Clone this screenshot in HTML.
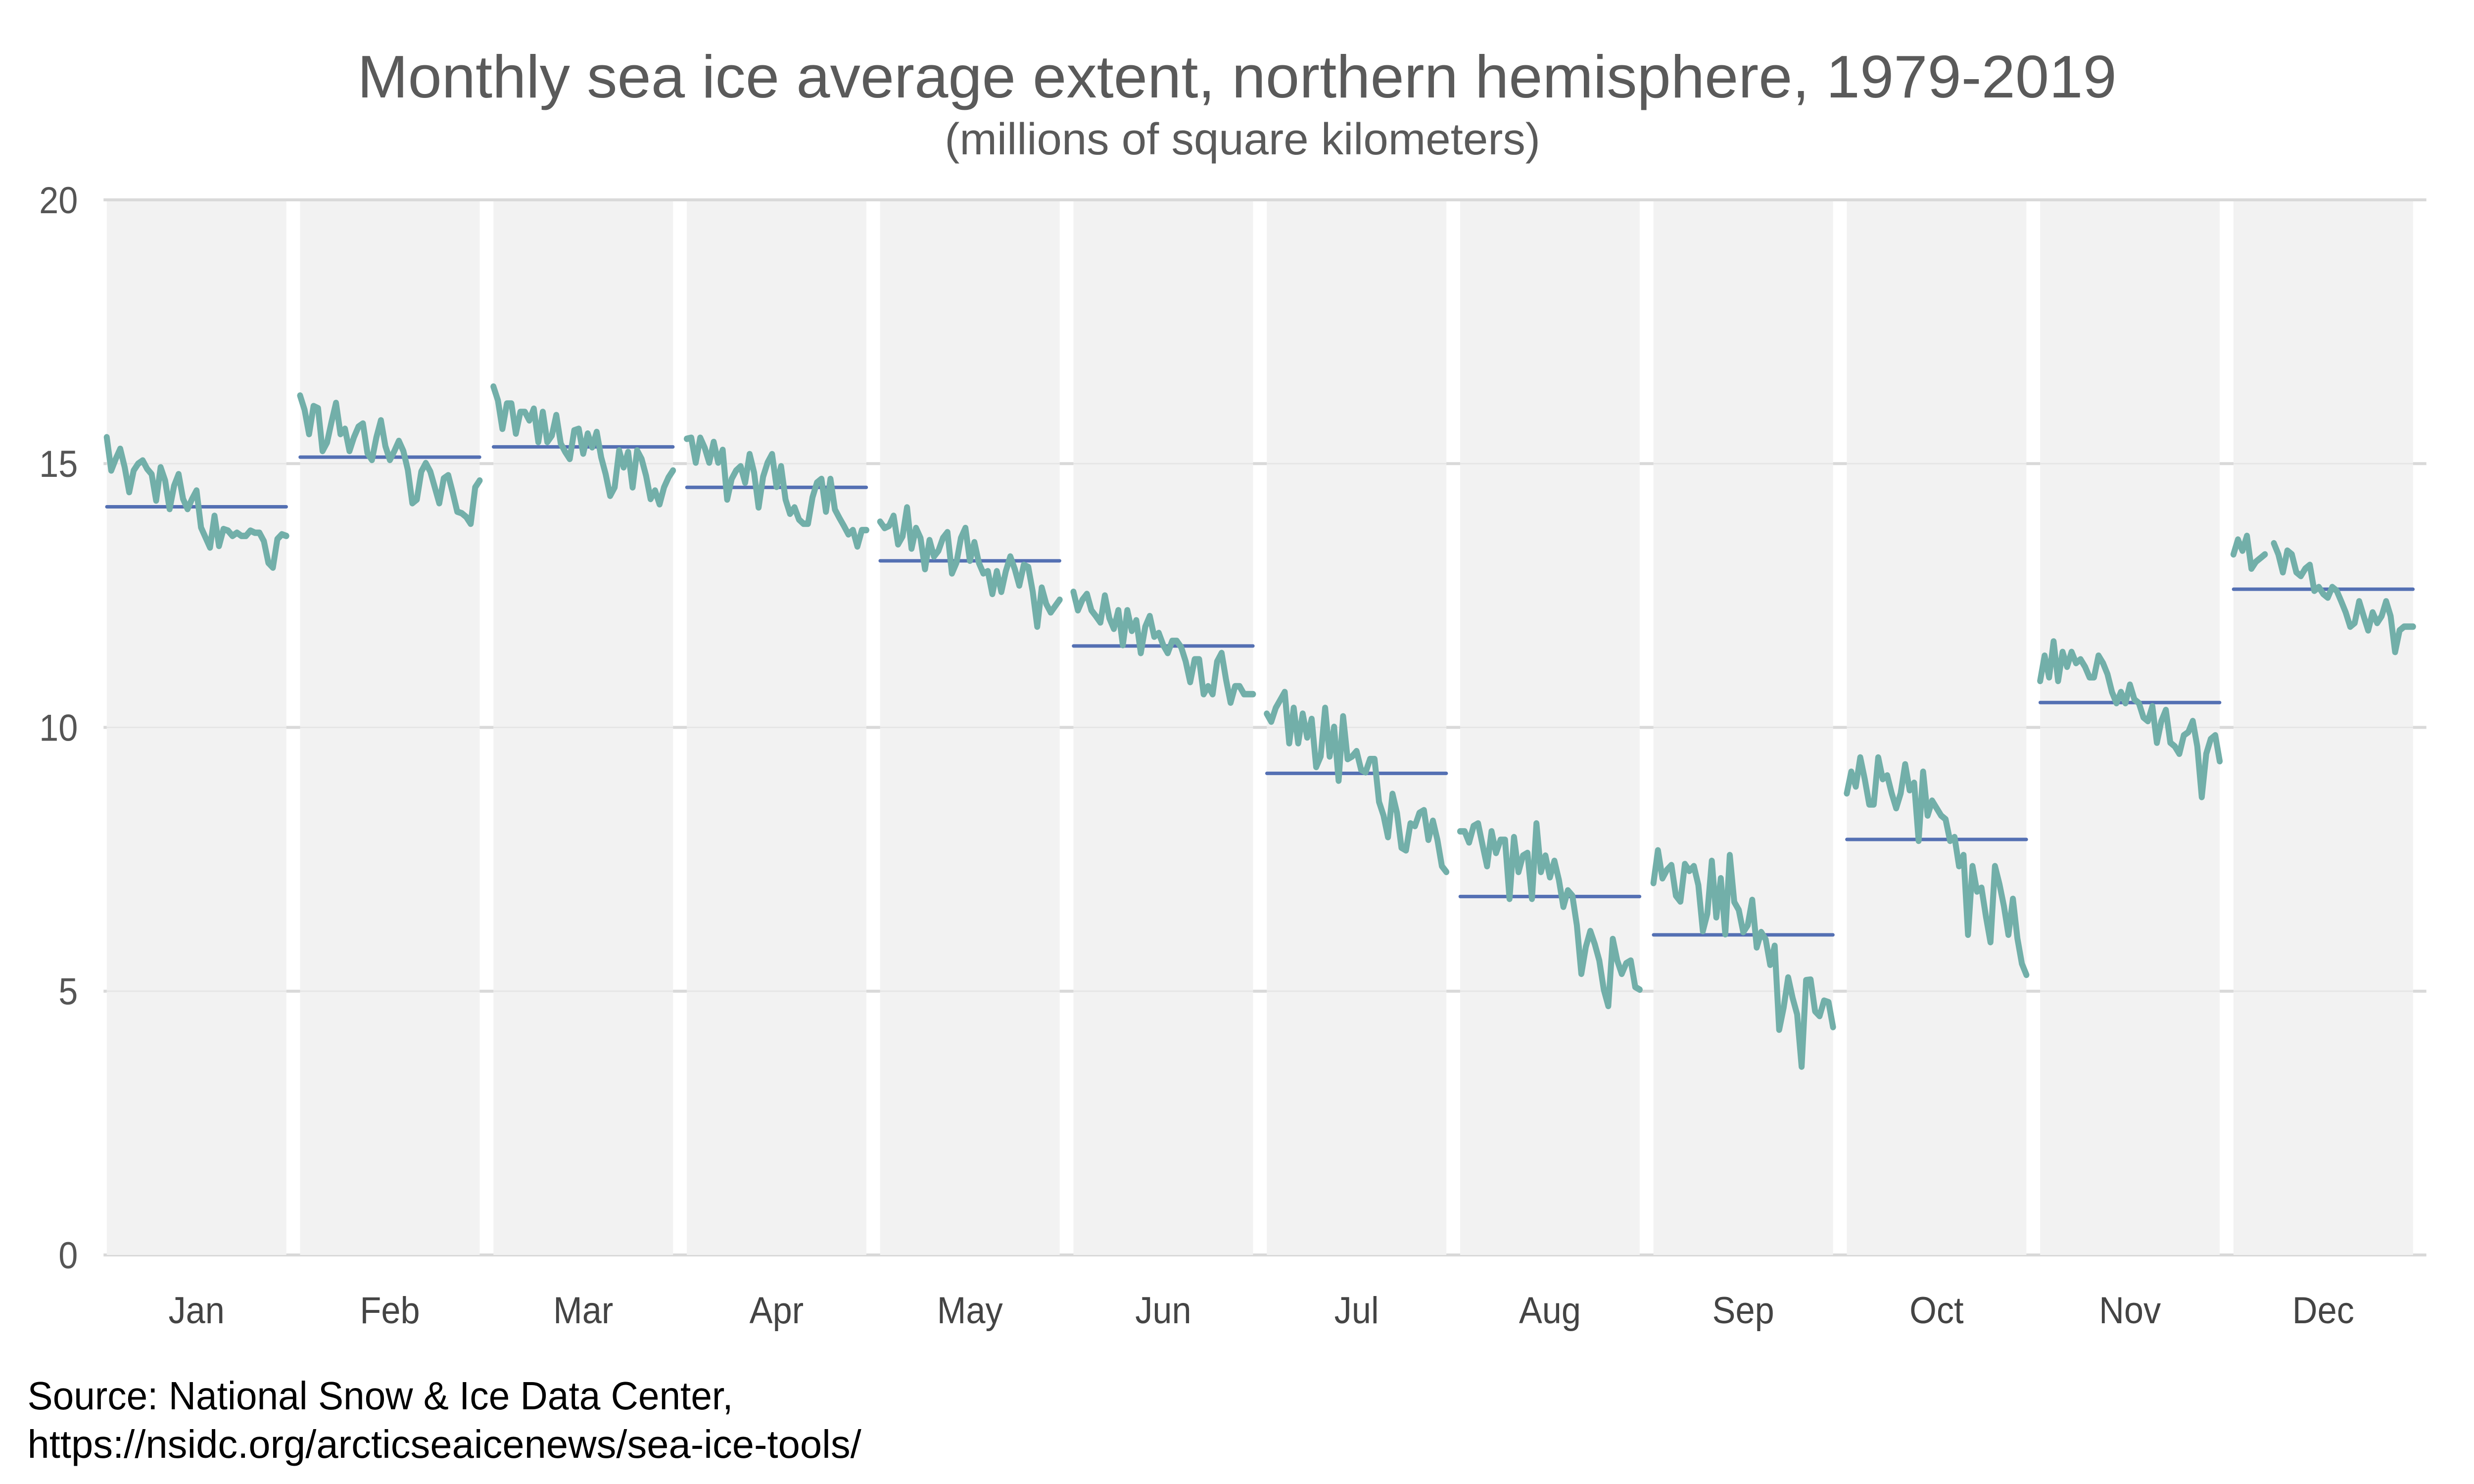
<!DOCTYPE html>
<html><head><meta charset="utf-8"><style>
html,body{margin:0;padding:0;background:#fff;width:100%;height:100%;overflow:hidden;}
svg{display:block;width:100vw;height:100vh;}
</style></head><body>
<svg id="chart" viewBox="0 0 5400 3000" preserveAspectRatio="none" xmlns="http://www.w3.org/2000/svg" font-family="'Liberation Sans', sans-serif">
<text x="2700" y="197" text-anchor="middle" font-size="122" fill="#5a5a5a" textLength="3840" lengthAdjust="spacingAndGlyphs">Monthly sea ice average extent, northern hemisphere, 1979-2019</text>
<text x="2712" y="312" text-anchor="middle" font-size="90" fill="#5a5a5a" textLength="1300" lengthAdjust="spacingAndGlyphs">(millions of square kilometers)</text>
<g id="grid"></g><g id="panels"></g><g id="series"></g><g id="axes"></g>
<text x="60" y="2849" font-size="80" fill="#000" textLength="1540" lengthAdjust="spacingAndGlyphs">Source: National Snow &amp; Ice Data Center,</text>
<text x="60" y="2947" font-size="80" fill="#000" textLength="1820" lengthAdjust="spacingAndGlyphs">https://nsidc.org/arcticseaicenews/sea-ice-tools/</text>
</svg>
<script>
const months = ["Jan","Feb","Mar","Apr","May","Jun","Jul","Aug","Sep","Oct","Nov","Dec"];
const yTicks = [0,5,10,15,20];
const janVals = [15.50,14.87,15.09,15.28,14.93,14.46,14.87,15.00,15.06,14.90,14.80,14.30,14.93,14.68,14.14,14.58,14.80,14.33,14.14,14.33,14.49,13.79,13.60,13.41,14.01,13.44,13.76,13.73,13.63,13.69,13.63,13.63,13.73,13.69,13.69,13.53,13.12,13.03,13.57,13.66,13.63];
const febVals = [16.29,16.02,15.56,16.09,16.05,15.24,15.40,15.79,16.15,15.56,15.66,15.24,15.50,15.70,15.76,15.20,15.07,15.50,15.82,15.33,15.07,15.24,15.43,15.24,14.88,14.25,14.32,14.85,15.01,14.85,14.55,14.25,14.72,14.78,14.45,14.09,14.06,13.99,13.86,14.55,14.68];
const marVals = [16.46,16.20,15.66,16.14,16.14,15.57,15.98,15.98,15.82,16.04,15.41,15.98,15.41,15.53,15.92,15.38,15.22,15.09,15.63,15.66,15.19,15.57,15.31,15.60,15.12,14.80,14.39,14.55,15.25,14.93,15.22,14.55,15.25,15.09,14.77,14.33,14.49,14.23,14.55,14.74,14.87];
const aprVals = [15.47,15.49,15.02,15.49,15.30,15.02,15.41,15.02,15.26,14.32,14.71,14.87,14.95,14.64,15.18,14.83,14.17,14.75,15.02,15.18,14.56,14.95,14.32,14.05,14.17,13.94,13.86,13.86,14.36,14.64,14.71,14.09,14.71,14.13,13.97,13.82,13.66,13.74,13.43,13.74,13.74];
const mayVals = [13.90,13.78,13.82,14.01,13.47,13.62,14.17,13.39,13.78,13.59,13.00,13.55,13.24,13.35,13.59,13.70,12.92,13.12,13.59,13.78,13.16,13.51,13.12,12.92,12.96,12.53,12.96,12.57,12.96,13.24,13.00,12.69,13.08,13.04,12.57,11.91,12.65,12.34,12.18,12.30,12.42];
const junVals = [12.57,12.22,12.42,12.53,12.22,12.11,11.99,12.50,12.07,11.87,12.22,11.56,12.22,11.83,12.03,11.41,11.91,12.11,11.72,11.79,11.56,11.41,11.64,11.64,11.52,11.25,10.86,11.29,11.29,10.63,10.78,10.63,11.25,11.41,10.90,10.47,10.78,10.78,10.63,10.63,10.63];
const julVals = [10.26,10.11,10.37,10.52,10.67,9.70,10.37,9.70,10.26,9.81,10.16,9.25,9.45,10.37,9.45,10.01,8.99,10.21,9.40,9.45,9.55,9.20,9.15,9.40,9.40,8.59,8.33,7.92,8.74,8.38,7.72,7.67,8.18,8.13,8.38,8.43,7.87,8.23,7.87,7.37,7.26];
const augVals = [8.03,8.03,7.82,8.13,8.18,7.77,7.37,8.03,7.62,7.87,7.87,6.75,7.92,7.26,7.57,7.62,6.75,8.18,7.26,7.57,7.16,7.47,7.11,6.60,6.91,6.81,6.25,5.33,5.84,6.14,5.89,5.58,5.03,4.72,5.99,5.58,5.33,5.53,5.58,5.08,5.03];
const sepVals = [7.05,7.67,7.14,7.30,7.39,6.81,6.70,7.41,7.28,7.37,7.01,6.14,6.47,7.47,6.40,7.14,6.08,7.58,6.69,6.54,6.12,6.25,6.73,5.83,6.12,5.98,5.50,5.86,4.27,4.69,5.26,4.87,4.56,3.57,5.21,5.22,4.62,4.53,4.82,4.79,4.32];
const octVals = [8.75,9.16,8.88,9.43,9.02,8.54,8.54,9.43,9.02,9.09,8.75,8.47,8.75,9.30,8.81,8.95,7.85,9.16,8.33,8.61,8.47,8.33,8.26,7.85,7.92,7.37,7.58,6.07,7.37,6.89,6.96,6.41,5.93,7.37,7.03,6.61,6.07,6.75,6.00,5.52,5.31];
const novVals = [10.88,11.36,10.95,11.63,10.88,11.43,11.15,11.43,11.22,11.29,11.15,10.95,10.95,11.36,11.22,11.01,10.67,10.46,10.67,10.46,10.81,10.53,10.46,10.19,10.12,10.40,9.71,10.12,10.33,9.71,9.64,9.50,9.85,9.91,10.12,9.64,8.68,9.50,9.78,9.85,9.36];
const decVals = [13.28,13.56,13.35,13.63,13.01,13.14,13.21,13.28,null,13.49,13.28,12.94,13.35,13.28,12.94,12.87,13.01,13.08,12.59,12.66,12.53,12.46,12.66,12.59,12.39,12.18,11.91,11.98,12.39,12.11,11.84,12.18,11.98,12.11,12.39,12.11,11.43,11.84,11.91,11.91,11.91];
const allSeries = [janVals,febVals,marVals,aprVals,mayVals,junVals,julVals,augVals,sepVals,octVals,novVals,decVals];

const NS = "http://www.w3.org/2000/svg";
const PL = 233, STEP = 422, PW = 392, YTOP = 404, YBOT = 2537, YMAX = 20;
function yScale(v){ return YBOT - (v / YMAX) * (YBOT - YTOP); }
function panelX(m){ return PL + m * STEP; }
function xScale(m, i, n){ return panelX(m) + (i / (n - 1)) * PW; }
function mk(tag, attrs, parent){ const e = document.createElementNS(NS, tag); for (const k in attrs) e.setAttribute(k, attrs[k]); parent.appendChild(e); return e; }

const grid = document.getElementById('grid'), panels = document.getElementById('panels'), series = document.getElementById('series'), axes = document.getElementById('axes');

yTicks.forEach(t => {
  const y = yScale(t);
  const g = mk('line', {x1: 226, x2: 5296, y1: y, y2: y, stroke: '#d9d9d9', 'stroke-width': 6}, grid);
  
  
  const lb = mk('text', {x: 170, y: y + 27, 'text-anchor': 'end', 'font-size': 76, fill: '#555'}, axes);
  lb.textContent = t;
  
  
});

months.forEach((m, mi) => {
  const px = panelX(mi);
  const r = mk('rect', {x: px, y: YTOP + 3, width: PW, height: YBOT - YTOP - 3, fill: '#f2f2f2'}, panels);
  
  
  yTicks.forEach(t => {
    if (t === 20 || t === 0) return;
    const fl = mk('line', {x1: px, x2: px + PW, y1: yScale(t), y2: yScale(t), stroke: '#e6e6e6', 'stroke-width': 3}, panels);
    
    
  });
  const vals = allSeries[mi];
  const valid = vals.filter(v => v !== null);
  const mean = valid.reduce((a, b) => a + b, 0) / valid.length;
  const ml = mk('line', {x1: px, x2: px + PW, y1: yScale(mean), y2: yScale(mean), stroke: '#5470b3', 'stroke-width': 7, 'stroke-linecap': 'round'}, series);
  
  
  let d = '', pen = false;
  vals.forEach((v, i) => {
    if (v === null) { pen = false; return; }
    d += (pen ? 'L' : 'M') + xScale(mi, i, vals.length).toFixed(1) + ' ' + yScale(v).toFixed(1) + ' ';
    pen = true;
  });
  const p = mk('path', {d: d, fill: 'none', stroke: '#72afa9', 'stroke-width': 13, 'stroke-linejoin': 'round', 'stroke-linecap': 'round'}, series);
  
  
  const ml2 = mk('text', {x: px + PW / 2, y: 2675, 'text-anchor': 'middle', 'font-size': 76, fill: '#444'}, axes);
  ml2.textContent = m;
  
  
});
</script>
</body></html>
